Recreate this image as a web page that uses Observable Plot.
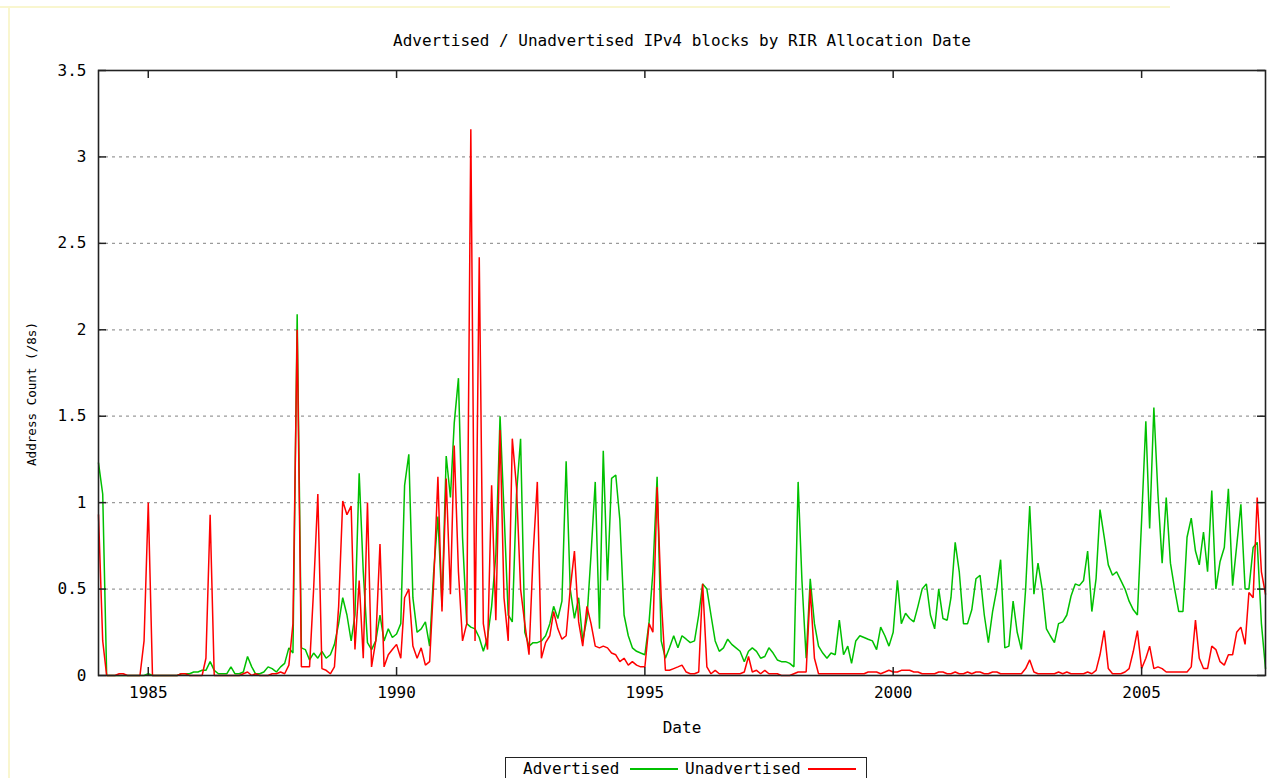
<!DOCTYPE html>
<html>
<head>
<meta charset="utf-8">
<script src="https://cdn.jsdelivr.net/npm/d3@7"></script>
<script src="https://cdn.jsdelivr.net/npm/@observablehq/plot@0.6"></script>
<style>
  html, body { margin: 0; padding: 0; background: #fff; overflow: hidden; }
  #page { position: relative; width: 1269px; height: 778px; overflow: hidden; background: #fff;
          font-family: "DejaVu Sans Mono", "Liberation Mono", monospace; color: #000; }
  #page svg { display: block; }
  .edge-top { position: absolute; left: 0; top: 6px; width: 1170px; height: 2px; background: #f9f6cf; }
  .edge-left { position: absolute; left: 8px; top: 6px; width: 2px; height: 772px; background: #f9f6cf; }
  #legend { position: absolute; left: 505px; top: 757px; width: 362px; height: 40px;
            border: 1.5px solid #222; box-sizing: border-box; font-size: 16px; }
  #legend span { position: absolute; top: 1px; white-space: pre; }
  #legend i { position: absolute; top: 10px; height: 1.6px; }
</style>
</head>
<body>
<div id="page">
  <div class="edge-top"></div>
  <div class="edge-left"></div>
  <div id="chart"></div>
  <div id="legend"></div>
</div>
<script>
// Monthly counts of /8-equivalent address space, January 1984 onward (one row per year).
const advertised = [
  1.23, 1.05, 0, 0, 0, 0, 0, 0, 0, 0, 0, 0,
  0.01, 0, 0, 0, 0, 0, 0, 0, 0.01, 0.01, 0.01, 0.02,
  0.02, 0.03, 0.03, 0.08, 0.03, 0.01, 0.01, 0.01, 0.05, 0.01, 0.01, 0.02,
  0.11, 0.05, 0.01, 0.01, 0.02, 0.05, 0.04, 0.02, 0.05, 0.07, 0.16, 0.13,
  2.09, 0.16, 0.15, 0.09, 0.13, 0.1, 0.14, 0.1, 0.12, 0.18, 0.3, 0.45,
  0.35, 0.2, 0.35, 1.17, 0.6, 0.19, 0.15, 0.2, 0.35, 0.2, 0.27, 0.22,
  0.24, 0.3, 1.1, 1.28, 0.45, 0.25, 0.27, 0.31, 0.17, 0.6, 0.92, 0.4,
  1.27, 1.03, 1.46, 1.72, 0.8, 0.3, 0.28, 0.27, 0.22, 0.14, 0.22, 0.4,
  0.7, 1.5, 0.95, 0.35, 0.31, 1.05, 1.37, 0.25, 0.17, 0.19, 0.19, 0.2,
  0.23, 0.3, 0.4, 0.33, 0.43, 1.24, 0.5, 0.33, 0.45, 0.2, 0.33, 0.7,
  1.12, 0.27, 1.3, 0.55, 1.14, 1.16, 0.9, 0.35, 0.23, 0.16, 0.14, 0.13,
  0.12, 0.31, 0.6, 1.15, 0.2, 0.1, 0.16, 0.23, 0.16, 0.23, 0.21, 0.19,
  0.2, 0.35, 0.53, 0.5, 0.35, 0.2, 0.14, 0.16, 0.21, 0.18, 0.16, 0.14,
  0.08, 0.14, 0.16, 0.14, 0.1, 0.11, 0.16, 0.13, 0.09, 0.08, 0.08, 0.07,
  0.05, 1.12, 0.55, 0.1, 0.56, 0.3, 0.17, 0.13, 0.1, 0.13, 0.12, 0.32,
  0.12, 0.17, 0.07, 0.2, 0.23, 0.22, 0.21, 0.2, 0.15, 0.28, 0.23, 0.17,
  0.25, 0.55, 0.3, 0.36, 0.33, 0.31, 0.4, 0.5, 0.53, 0.35, 0.27, 0.5,
  0.33, 0.32, 0.45, 0.77, 0.6, 0.3, 0.3, 0.38, 0.56, 0.58, 0.35, 0.19,
  0.37, 0.5, 0.67, 0.16, 0.17, 0.43, 0.25, 0.15, 0.5, 0.98, 0.47, 0.65,
  0.5, 0.27, 0.23, 0.19, 0.3, 0.31, 0.35, 0.46, 0.53, 0.52, 0.55, 0.72,
  0.37, 0.56, 0.96, 0.8, 0.64, 0.58, 0.6, 0.55, 0.5, 0.43, 0.38, 0.35,
  0.9, 1.47, 0.85, 1.55, 1.05, 0.65, 1.03, 0.65, 0.5, 0.37, 0.37, 0.8,
  0.91, 0.72, 0.64, 0.83, 0.6, 1.07, 0.5, 0.66, 0.74, 1.08, 0.52, 0.75,
  0.99, 0.5, 0.5, 0.74, 0.77, 0.3, 0.04
];

const unadvertised = [
  0.93, 0.2, 0, 0, 0, 0.01, 0.01, 0, 0, 0, 0, 0.2,
  1.0, 0, 0, 0, 0, 0, 0, 0, 0.01, 0.01, 0, 0,
  0, 0, 0.1, 0.93, 0, 0, 0, 0, 0, 0, 0, 0.01,
  0.02, 0, 0.01, 0, 0, 0, 0.01, 0.01, 0.02, 0.01, 0.06, 0.3,
  2.0, 0.05, 0.05, 0.05, 0.5, 1.05, 0.04, 0.03, 0.01, 0.05, 0.4, 1.01,
  0.93, 0.98, 0.15, 0.55, 0.1, 1.0, 0.05, 0.2, 0.76, 0.05, 0.12, 0.15,
  0.18, 0.1, 0.45, 0.5, 0.17, 0.1, 0.16, 0.06, 0.08, 0.54, 1.15, 0.37,
  1.14, 0.47, 1.33, 0.6, 0.2, 0.3, 3.16, 0.2, 2.42, 0.3, 0.15, 1.1,
  0.32, 1.42, 0.45, 0.2, 1.37, 1.09, 0.5, 0.3, 0.12, 0.7, 1.12, 0.1,
  0.19, 0.23, 0.37, 0.27, 0.21, 0.23, 0.5, 0.72, 0.31, 0.17, 0.4, 0.3,
  0.17, 0.16, 0.17, 0.16, 0.13, 0.12, 0.08, 0.1, 0.06, 0.08, 0.06, 0.05,
  0.05, 0.3, 0.25, 1.09, 0.45, 0.03, 0.03, 0.04, 0.05, 0.06, 0.02, 0.01,
  0.01, 0.02, 0.53, 0.05, 0.01, 0.03, 0.01, 0.01, 0.01, 0.01, 0.01, 0.01,
  0.02, 0.11, 0.02, 0.03, 0.01, 0.03, 0.01, 0.01, 0.01, 0, 0, 0,
  0.01, 0.02, 0.02, 0.02, 0.5, 0.1, 0.01, 0.01, 0.01, 0.01, 0.01, 0.01,
  0.01, 0.01, 0.01, 0.01, 0.01, 0.01, 0.02, 0.02, 0.02, 0.01, 0.02, 0.03,
  0.02, 0.02, 0.03, 0.03, 0.03, 0.02, 0.02, 0.01, 0.01, 0.01, 0.01, 0.02,
  0.02, 0.01, 0.01, 0.02, 0.01, 0.01, 0.02, 0.01, 0.02, 0.02, 0.01, 0.01,
  0.02, 0.02, 0.01, 0.01, 0.01, 0.01, 0.01, 0.01, 0.04, 0.09, 0.02, 0.01,
  0.01, 0.01, 0.01, 0.01, 0.02, 0.01, 0.02, 0.01, 0.01, 0.01, 0.01, 0.02,
  0.01, 0.03, 0.12, 0.26, 0.04, 0.01, 0.01, 0.01, 0.02, 0.04, 0.14, 0.26,
  0.04, 0.1, 0.17, 0.04, 0.05, 0.04, 0.02, 0.02, 0.02, 0.02, 0.02, 0.02,
  0.05, 0.32, 0.1, 0.04, 0.04, 0.17, 0.15, 0.08, 0.06, 0.12, 0.12, 0.25,
  0.28, 0.18, 0.48, 0.45, 1.03, 0.6, 0.47
];

const seriesNames = ["Advertised", "Unadvertised"];
const seriesColors = ["#00c000", "#ff0000"];
const yearTicks = [1985, 1990, 1995, 2000, 2005];
const countTicks = [0, 0.5, 1, 1.5, 2, 2.5, 3, 3.5];
const gridLevels = [0.5, 1, 1.5, 2, 2.5, 3];
const titleText = "Advertised / Unadvertised IPv4 blocks by RIR Allocation Date";
const xLabel = "Date";
const yLabel = "Address Count (/8s)";

const firstMonth = new Date(Date.UTC(1984, 0, 1));
const lastEdge = new Date(Date.UTC(2007, 6, 1));
const monthOf = i => d3.utcMonth.offset(firstMonth, i);
const toRows = values => values.map((v, i) => ({date: monthOf(i), value: v}));
const advRows = toRows(advertised);
const unadvRows = toRows(unadvertised);
const yearDates = yearTicks.map(y => new Date(Date.UTC(y, 0, 1)));

const W = 1269, H = 778, mL = 98, mR = 4, mT = 70, mB = 103;
const frameW = W - mL - mR, frameH = H - mT - mB;
const tickLen = 8;
const ink = "#222";

const chart = Plot.plot({
  width: W,
  height: H,
  marginLeft: mL,
  marginRight: mR,
  marginTop: mT,
  marginBottom: mB,
  style: {fontFamily: "'DejaVu Sans Mono', 'Liberation Mono', monospace", fontSize: "16px", color: "#000", background: "#fff"},
  x: {type: "utc", domain: [firstMonth, lastEdge]},
  y: {domain: [0, 3.5]},
  marks: [
    Plot.ruleY(gridLevels, {stroke: "#9a9a9a", strokeWidth: 1.3, strokeDasharray: "3,4"}),
    Plot.line(advRows, {x: "date", y: "value", stroke: seriesColors[0], strokeWidth: 1.5, strokeLinejoin: "miter"}),
    Plot.line(unadvRows, {x: "date", y: "value", stroke: seriesColors[1], strokeWidth: 1.5, strokeLinejoin: "miter"}),
    Plot.frame({stroke: ink, strokeWidth: 1.6}),
    // inward tick marks on all four sides
    Plot.ruleX(yearDates, {x: d => d, insetTop: frameH - tickLen, stroke: ink, strokeWidth: 1.5}),
    Plot.ruleX(yearDates, {x: d => d, insetBottom: frameH - tickLen, stroke: ink, strokeWidth: 1.5}),
    Plot.ruleY(countTicks, {y: d => d, insetRight: frameW - tickLen, stroke: ink, strokeWidth: 1.5}),
    Plot.ruleY(countTicks, {y: d => d, insetLeft: frameW - tickLen, stroke: ink, strokeWidth: 1.5}),
    Plot.axisX({ticks: yearDates, tickFormat: "%Y", tickSize: 0, tickPadding: 11, label: null, fontSize: 16}),
    Plot.axisY({ticks: countTicks, tickFormat: d => String(d), tickSize: 0, tickPadding: 12, label: null, fontSize: 16}),
    Plot.text([titleText], {frameAnchor: "top", lineAnchor: "middle", dy: -30, fontSize: 16}),
    Plot.text([xLabel], {frameAnchor: "bottom", lineAnchor: "middle", dy: 52, fontSize: 16}),
    Plot.text([yLabel], {frameAnchor: "left", lineAnchor: "middle", textAnchor: "middle", rotate: -90, dx: -67, dy: 21, fontSize: 12.6})
  ]
});
document.getElementById("chart").append(chart);

// gnuplot-style key: label followed by a short line sample
const legend = document.getElementById("legend");
const keyLayout = [{text: 17, line: 124}, {text: 179, line: 302}];
seriesNames.forEach((name, i) => {
  const s = document.createElement("span");
  s.textContent = name;
  s.style.left = keyLayout[i].text + "px";
  legend.append(s);
  const l = document.createElement("i");
  l.style.left = keyLayout[i].line + "px";
  l.style.width = "48px";
  l.style.background = seriesColors[i];
  legend.append(l);
});
</script>
</body>
</html>
